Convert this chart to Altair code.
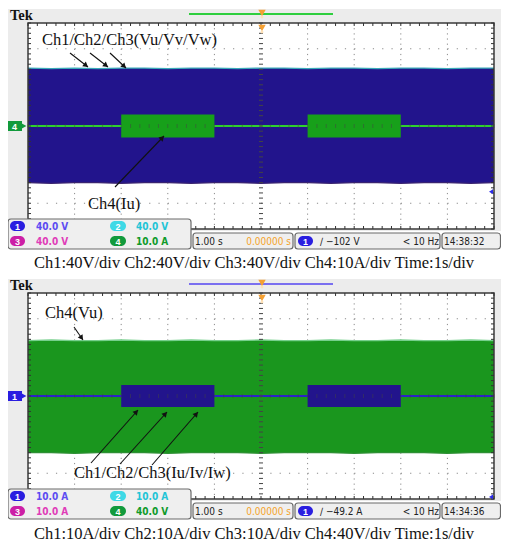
import math
import altair as alt
import numpy as np
import pandas as pd

# ---------------- values ----------------
time_s = [0.0, 0.5, 1.0, 1.5, 2.0, 2.5, 3.0, 3.5, 4.0, 4.5, 5.0,
          5.5, 6.0, 6.5, 7.0, 7.5, 8.0, 8.5, 9.0, 9.5, 10.0]

# upper screen: Ch1/Ch2/Ch3 = Vu/Vv/Vw (40 V/div), Ch4 = Iu (10 A/div)
vuvw_top_v = [90, 89, 90, 89, 90, 90, 89, 90, 90, 89, 90, 90, 89, 90, 90, 89, 90, 90, 89, 90, 90]
vuvw_bot_v = [-88, -89, -88, -88, -89, -88, -88, -89, -88, -88, -89, -88, -88, -89, -88, -88, -89, -88, -88, -89, -88]
iu_burst_start_s = [2.0, 6.0]
iu_burst_end_s = [4.0, 8.0]
iu_burst_amp_a = [4.5, 4.5]

# lower screen: Ch1/Ch2/Ch3 = Iu/Iv/Iw (10 A/div), Ch4 = Vu (40 V/div)
vu_top_v = [86, 87, 86, 86, 87, 86, 86, 87, 86, 86, 87, 86, 86, 87, 86, 86, 87, 86, 86, 87, 86]
vu_bot_v = [-88, -88, -89, -88, -88, -88, -89, -88, -88, -88, -89, -88, -88, -88, -89, -88, -88, -88, -89, -88, -88]
iuvw_burst_start_s = [2.0, 6.0]
iuvw_burst_end_s = [4.0, 8.0]
iuvw_burst_amp_a = [4.3, 4.3]

scale_labels_top = ["40.0 V", "40.0 V", "40.0 V", "10.0 A"]
scale_labels_bot = ["10.0 A", "10.0 A", "10.0 A", "40.0 V"]
trigger_top = -102.0   # V on Ch1 (40 V/div)
trigger_bot = -49.2    # A on Ch1 (10 A/div)
trigger_txt_top = "\u2215 \u2212102 V"
trigger_txt_bot = "\u2215 \u221249.2 A"
clock_top = "14:38:32"
clock_bot = "14:34:36"
caption_top = "Ch1:40V/div Ch2:40V/div Ch3:40V/div Ch4:10A/div Time:1s/div"
caption_bot = "Ch1:10A/div Ch2:10A/div Ch3:10A/div Ch4:40V/div Time:1s/div"

# ---------------- geometry ----------------
PX = 46.6    # px per horizontal division
PY = 25.75   # px per vertical division
X0, YTOP = 28, 23
W, H = 493, 534


def X(px):
    return (px - X0) / PX


def Y(py):
    return 4 - (py - YTOP) / PY


XS = alt.Scale(domain=[X(8), X(8 + W)], nice=False, zero=False)
YS = alt.Scale(domain=[Y(8 + H), Y(8)], nice=False, zero=False)


def ex(f):
    return alt.X(f, type="quantitative", scale=XS, axis=None)


def ey(f):
    return alt.Y(f, type="quantitative", scale=YS, axis=None)


def box_layer(rows, **mk):
    df = pd.DataFrame({"x0": [X(r[0]) for r in rows], "y0": [Y(r[1]) for r in rows],
                       "x1": [X(r[2]) for r in rows], "y1": [Y(r[3]) for r in rows]})
    return alt.Chart(df).mark_rect(**mk).encode(x=ex("x0"), x2="x1", y=ey("y0"), y2="y1")


def text_layer(rows, **mk):
    df = pd.DataFrame({"x": [X(r[0]) for r in rows], "y": [Y(r[1]) for r in rows],
                       "t": [r[2] for r in rows]})
    enc = dict(x=ex("x"), y=ey("y"), text="t:N")
    if len(rows[0]) > 3:
        df["c"] = [r[3] for r in rows]
        enc["color"] = alt.Color("c:N", scale=None)
    return alt.Chart(df).mark_text(**mk).encode(**enc)


def seg_layer(x0, y0, x1, y1, **mk):
    df = pd.DataFrame({"x0": list(x0), "y0": list(y0), "x1": list(x1), "y1": list(y1)})
    return alt.Chart(df).mark_rule(**mk).encode(x=ex("x0"), x2="x1", y=ey("y0"), y2="y1")


def point_layer(rows, **mk):
    df = pd.DataFrame({"x": [X(r[0]) for r in rows], "y": [Y(r[1]) for r in rows]})
    return alt.Chart(df).mark_point(**mk).encode(x=ex("x"), y=ey("y"))


def arrows(pairs):
    x0, y0, x1, y1, hx, hy, ang = [], [], [], [], [], [], []
    for (a, b), (c, d) in pairs:
        x0.append(X(a)); y0.append(Y(b)); x1.append(X(c)); y1.append(Y(d))
        L = math.hypot(c - a, d - b)
        ux, uy = (c - a) / L, (d - b) / L
        hx.append(X(c - 2.5 * ux)); hy.append(Y(d - 2.5 * uy))
        ang.append(math.degrees(math.atan2(c - a, -(d - b))) % 360)
    out = [seg_layer(x0, y0, x1, y1, color="#111111", strokeWidth=1.1)]
    dfh = pd.DataFrame({"x": hx, "y": hy, "a": ang})
    out.append(alt.Chart(dfh).mark_point(shape="triangle-up", filled=True, color="#111111",
                                         size=34, opacity=1).encode(
        x=ex("x"), y=ey("y"), angle=alt.Angle("a", type="quantitative", scale=None)))
    return out


SERIF = "Liberation Serif"
NARROW = "Liberation Sans Narrow, DejaVu Sans Condensed, Liberation Sans, sans-serif"
CH_BADGE = ["#2a1ee0", "#3fd9e6", "#cc1fa6", "#129a3c"]
CH_TEXT = ["#5d4cf2", "#22c4d6", "#e03cb8", "#0e9a2a"]


def screen(p, band_top, band_bot, band_scale, band_color, edge_top, edge_bot,
           b_start, b_end, b_amp, b_scale, burst_color, trace_color,
           bar_color, marker_label, marker_color, trig_level, trig_scale,
           labels, trig_txt, clock, caption, caption_y, notes, note_arrows):
    dy = 270 * p
    off = -dy / PY
    L = []
    # bezel and screen
    L.append(box_layer([(8, 9 + dy, 501, 231 + dy)], color="#ececec"))
    L.append(box_layer([(X0, YTOP + dy, X0 + 10 * PX, YTOP + dy + 8 * PY)], color="white"))
    # dotted graticule
    gx = [1, 2, 3, 4, 6, 7, 8, 9]
    L.append(seg_layer(gx, [4 + off] * len(gx), gx, [-4 + off] * len(gx),
                       color="#8a8a8a", strokeWidth=1, strokeDash=[1.2, 0.2 * PY - 1.2]))
    gy = [-3, -2, -1, 1, 2, 3]
    L.append(seg_layer([0] * len(gy), [g + off for g in gy], [10] * len(gy), [g + off for g in gy],
                       color="#8a8a8a", strokeWidth=1, strokeDash=[1.2, 0.2 * PX - 1.2]))
    # waveform envelope
    df = pd.DataFrame({"t": time_s,
                       "top": [v / band_scale + off for v in band_top],
                       "bot": [v / band_scale + off for v in band_bot]})
    L.append(alt.Chart(df).mark_area(color=band_color, opacity=1).encode(
        x=ex("t"), y=ey("top"), y2="bot"))
    L.append(alt.Chart(df).mark_line(color=edge_top, strokeWidth=1.3).encode(x=ex("t"), y=ey("top")))
    L.append(alt.Chart(df).mark_line(color=edge_bot, strokeWidth=1.3).encode(x=ex("t"), y=ey("bot")))
    # centre trace and bursts
    L.append(seg_layer([0], [off], [10], [off], color=trace_color, strokeWidth=2))
    dfb = pd.DataFrame({"s": b_start, "e": b_end,
                        "hi": [a / b_scale + off for a in b_amp],
                        "lo": [-a / b_scale + off for a in b_amp]})
    L.append(alt.Chart(dfb).mark_rect(color=burst_color).encode(
        x=ex("s"), x2="e", y=ey("hi"), y2="lo"))
    # frame + ticks
    L.append(box_layer([(X0, YTOP + dy, X0 + 10 * PX, YTOP + dy + 8 * PY)],
                       fillOpacity=0, stroke="#3a3a3a", strokeWidth=1.5))
    mx = np.round(np.arange(0, 10.0001, 0.2), 4)
    my = np.round(np.arange(-4, 4.0001, 0.2), 4)
    tl_x, tl_y = 3 / PX, 3 / PY
    L.append(seg_layer(mx, [4 + off] * len(mx), mx, [4 + off - tl_y] * len(mx), color="#333", strokeWidth=1))
    L.append(seg_layer(mx, [-4 + off] * len(mx), mx, [-4 + off + tl_y] * len(mx), color="#333", strokeWidth=1))
    L.append(seg_layer([0] * len(my), my + off, [tl_x] * len(my), my + off, color="#333", strokeWidth=1))
    L.append(seg_layer([10] * len(my), my + off, [10 - tl_x] * len(my), my + off, color="#333", strokeWidth=1))
    L.append(seg_layer([5 - 2 / PX] * len(my), my + off, [5 + 2 / PX] * len(my), my + off,
                       color="#444", strokeWidth=1))
    L.append(seg_layer(mx, [off - 2 / PY] * len(mx), mx, [off + 2 / PY] * len(mx),
                       color="#444", strokeWidth=1, opacity=0.5))
    # annotations
    L.append(text_layer(notes, font=SERIF, fontSize=16.5, align="left", baseline="middle", color="#111"))
    L.extend(arrows(note_arrows))
    # top status bar
    L.append(text_layer([(10, 20 + dy, "Tek")], font=SERIF, fontSize=14.5, fontWeight="bold",
                        align="left", baseline="alphabetic", color="#111"))
    L.append(seg_layer([X(189)], [Y(14 + dy)], [X(333)], [Y(14 + dy)], color=bar_color, strokeWidth=2))
    L.append(point_layer([(262, 13 + dy), (262, 28 + dy)], shape="triangle-down", filled=True,
                         color="#f5a032", size=55, opacity=1))
    L.append(point_layer([(262, 17 + dy), (262, 32 + dy)], shape="circle", filled=True,
                         color="#ffe2b8", size=8, opacity=1))
    # channel marker on the left
    L.append(box_layer([(8, 121 + dy, 22, 131 + dy)], color=marker_color))
    L.append(point_layer([(23.5, 126 + dy)], shape="triangle-right", filled=True, color=marker_color,
                         size=45, opacity=1))
    L.append(text_layer([(14.5, 126.5 + dy, marker_label)], font="Liberation Sans", fontSize=9,
                        fontWeight="bold", color="white", align="center", baseline="middle"))
    # trigger level marker on the right
    lvl = max(trig_level / trig_scale, -3.92)
    dft = pd.DataFrame({"x": [X(491)], "y": [lvl + off]})
    L.append(alt.Chart(dft).mark_point(shape="triangle-left", filled=True, color="#2b2bea",
                                       size=22, opacity=1).encode(x=ex("x"), y=ey("y")))
    # readout boxes
    L.append(box_layer([(8, 219 + dy, 191, 249 + dy), (193, 233 + dy, 293, 249 + dy),
                        (295, 233 + dy, 440, 249 + dy), (442, 233 + dy, 500.5, 249 + dy)],
                       color="#efefef", stroke="#6a6a6a", strokeWidth=1.2, cornerRadius=3))
    badges = [(10, 221, 25, 231), (110, 221, 126, 231), (10, 236, 25, 246), (110, 236, 126, 246)]
    for i, (a, b, c, d) in enumerate(badges):
        L.append(box_layer([(a, b + dy, c, d + dy)], color=CH_BADGE[i], cornerRadius=5))
    L.append(box_layer([(298, 236 + dy, 313, 246 + dy)], color=CH_BADGE[0], cornerRadius=5))
    L.append(text_layer([(17.5, 226.5 + dy, "1"), (118, 226.5 + dy, "2"), (17.5, 241.5 + dy, "3"),
                         (118, 241.5 + dy, "4"), (305.5, 241.5 + dy, "1")],
                        font="Liberation Sans", fontSize=9, fontWeight="bold", color="white",
                        align="center", baseline="middle"))
    L.append(text_layer([(36, 226.5 + dy, labels[0], CH_TEXT[0]), (136, 226.5 + dy, labels[1], CH_TEXT[1]),
                         (36, 241.5 + dy, labels[2], CH_TEXT[2]), (136, 241.5 + dy, labels[3], CH_TEXT[3])],
                        font=NARROW, fontSize=10, fontWeight="bold", align="left", baseline="middle"))
    L.append(text_layer([(195, 241.5 + dy, "1.00 s", "#222222"), (320, 241.5 + dy, trig_txt, "#222222"),
                         (444, 241.5 + dy, clock, "#222222")],
                        font=NARROW, fontSize=10, align="left", baseline="middle"))
    L.append(text_layer([(291, 241.5 + dy, "0.00000 s", "#f5a32a"), (439, 241.5 + dy, "< 10 Hz", "#222222")],
                        font=NARROW, fontSize=10, align="right", baseline="middle"))
    # caption
    L.append(text_layer([(254, caption_y, caption)], font=SERIF, fontSize=16.5, align="center",
                        baseline="middle", color="#111"))
    return L


layers = []
layers += screen(0, vuvw_top_v, vuvw_bot_v, 40.0, "#22148c", "#3aaab8", "#3a2470",
                 iu_burst_start_s, iu_burst_end_s, iu_burst_amp_a, 10.0, "#17a01a", "#2fcf2f",
                 "#2fcf3f", "4", "#129a3c", trigger_top, 40.0,
                 scale_labels_top, trigger_txt_top, clock_top, caption_top, 263,
                 [(42, 40, "Ch1/Ch2/Ch3(Vu/Vv/Vw)"), (88, 204, "Ch4(Iu)")],
                 [((70, 53), (88, 67)), ((90, 53), (108, 67)), ((110, 53), (126, 68)),
                  ((115, 187), (164, 136))])
layers += screen(1, vu_top_v, vu_bot_v, 40.0, "#1a961e", "#76cf8c", "#2f8f35",
                 iuvw_burst_start_s, iuvw_burst_end_s, iuvw_burst_amp_a, 10.0, "#22148c", "#2c22c8",
                 "#7a6ff0", "1", "#2a1ee0", trigger_bot, 10.0,
                 scale_labels_bot, trigger_txt_bot, clock_bot, caption_bot, 534,
                 [(45, 313, "Ch4(Vu)"), (74, 473, "Ch1/Ch2/Ch3(Iu/Iv/Iw)")],
                 [((74, 327), (83, 340)), ((91, 463), (138, 410)), ((120, 464), (167, 412)),
                  ((152, 465), (198, 412))])

chart = alt.layer(*layers).properties(
    width=W, height=H,
    autosize=alt.AutoSizeParams(type="none"),
    padding=0,
).configure_view(stroke=None)

chart.save("out.html", embed_options={"renderer": "svg", "actions": False})
